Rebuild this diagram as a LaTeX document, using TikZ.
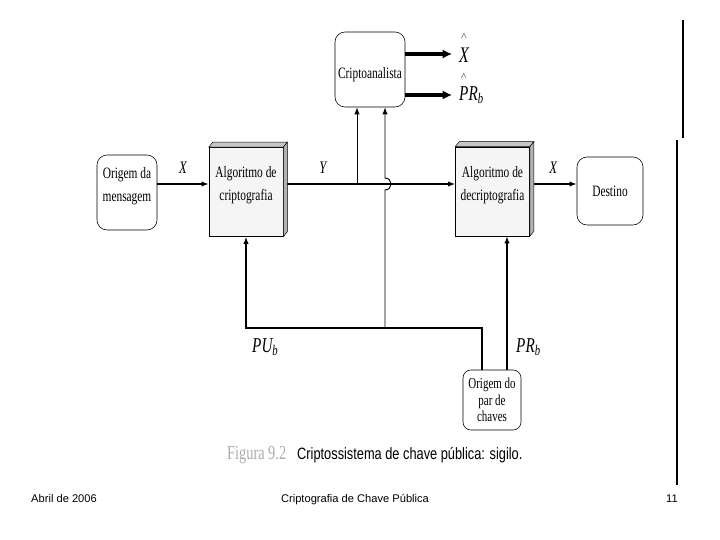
\documentclass[tikz,border=0pt]{standalone}
\usepackage{fontspec}
\setmainfont{Liberation Serif}
\newfontfamily\condserif{Liberation Serif}[FakeStretch=0.72]
\newfontfamily\condsans{Liberation Sans}[FakeStretch=0.78]
\newfontfamily\footsans{Liberation Sans}
\usetikzlibrary{arrows.meta}

% caret above a letter
\newcommand{\caretover}[1]{\ooalign{#1\cr\hidewidth\raisebox{1.05em}{\fontsize{7}{7}\selectfont$\wedge$}\hidewidth\cr}}

\begin{document}
\begin{tikzpicture}[
    x=0.03cm, y=-0.03cm,
    box/.style={draw, rounded corners=0.3cm, line width=0.5pt, inner sep=0pt, align=center,
                font=\condserif\fontsize{13.5}{19.5}\selectfont},
    twoline/.style={text height=18pt, text depth=3pt},
    algbox/.style={draw, fill=gray!8, line width=0.5pt, inner sep=0pt, align=center, twoline,
                minimum width=2.22cm, minimum height=2.67cm, font=\condserif\fontsize{13.5}{19.5}\selectfont},
    arrow/.style={-{Latex[length=6pt,width=4.5pt]}, line width=1.1pt},
    thinarrow/.style={-{Latex[length=6pt,width=4.5pt]}, line width=0.8pt},
    fatarrow/.style={-{Latex[length=8pt,width=8pt]}, line width=3pt},
    lbl/.style={inner sep=0pt, font=\condserif\itshape\fontsize{15}{17}\selectfont},
    keylbl/.style={inner sep=0pt, font=\condserif\itshape\fontsize{18}{20}\selectfont}
]
\useasboundingbox (0,0) rectangle (720,540);

% boxes
\node[box, twoline, minimum width=1.8cm, minimum height=2.25cm] (orig) at (127,192.5) {Origem da\\mensagem};
\node[algbox] (enc) at (246,192) {Algoritmo de\\criptografia};
\node[algbox] (dec) at (492.5,191.5) {Algoritmo de\\decriptografia};
\node[box, minimum width=1.98cm, minimum height=2.04cm] (dest) at (610,191) {Destino};
\node[box, text height=17.6pt, text depth=3pt, minimum width=2.1cm, minimum height=2.25cm] (cana) at (370,69.5) {Criptoanalista};
\node[box, rounded corners=0.24cm, minimum width=1.74cm, minimum height=1.8cm,
      font=\condserif\fontsize{13}{14}\selectfont] (keysrc) at (492,400) {Origem do\\par de\\chaves};

\coordinate (mainy) at (0,184);
\coordinate (bar) at (0,328);
\coordinate (tapY) at (357,184);
\coordinate (hopbot) at (385,190);
\coordinate (hoptop) at (385,178);
\coordinate (outX) at (452,54);
\coordinate (outK) at (452,95);

% main channel
\draw[arrow] (orig.east |- mainy) -- (enc.west |- mainy) node[lbl, midway, above=0.3cm] {X};
\draw[arrow, line width=1.5pt] (enc.east |- mainy) -- (dec.west |- mainy) node[lbl, pos=0.23, above=0.3cm] {Y};
\draw[arrow] (dec.east |- mainy) -- (dest.west |- mainy) node[lbl, midway, above=0.3cm] {X};

% keys
\draw[arrow] ([xshift=-0.3cm]keysrc.north) |- (enc.south |- bar) -- (enc.south);
\draw[arrow] ([xshift=0.45cm]keysrc.north) -- ([xshift=0.45cm]keysrc.north |- dec.south);
\node[keylbl, anchor=west] (pu) at (252,347) {PU\textsubscript{b}};
\node[keylbl, anchor=west] (pr) at (516,347) {PR\textsubscript{b}};

% taps to the cryptanalyst
\draw[thinarrow] (tapY) -- (tapY |- cana.south);
\draw[thinarrow] (hopbot |- bar) -- (hopbot) .. controls +(8,0) and +(8,0) .. (hoptop) -- (hoptop |- cana.south);

% cryptanalyst outputs
\draw[fatarrow] (cana.east |- outX) -- (outX);
\draw[fatarrow] (cana.east |- outK) -- (outK);
\node[inner sep=0pt, anchor=west, font=\condserif\itshape\fontsize{19}{21}\selectfont] (xhat) at (459,55) {\caretover{X}};
\node[keylbl, anchor=west] (prhat) at (459,95) {\caretover{P}R\textsubscript{b}};

% 3d sides of the algorithm boxes
\foreach \n in {enc,dec} {
  \filldraw[fill=gray!45, line width=0.4pt] (\n.north west) -- ++(4,-5) -- ([shift={(4,-5)}]\n.north east) -- (\n.north east) -- cycle;
  \filldraw[fill=gray!60, line width=0.4pt] (\n.north east) -- ++(4,-5) -- ([shift={(4,-5)}]\n.south east) -- (\n.south east) -- cycle;
}

% caption
\node[inner sep=0pt, anchor=west, text=gray!65, font=\condserif\fontsize{17}{19}\selectfont] (fignum) at (227,455) {Figura 9.2};
\node[inner sep=0pt, anchor=west, font=\condsans\fontsize{14}{16}\selectfont] (caption) at (297,455) {Criptossistema de chave pública: sigilo.};

% footer
\node[inner sep=0pt, anchor=base west, font=\footsans\fontsize{9.5}{11}\selectfont] (date) at (31,502) {Abril de 2006};
\node[inner sep=0pt, anchor=base, font=\footsans\fontsize{9.5}{11}\selectfont] (title) at (355,502) {Criptografia de Chave Pública};
\node[inner sep=0pt, anchor=base east, font=\footsans\fontsize{9.5}{11}\selectfont] (page) at (678,502) {11};

% right border lines
\draw[line width=1.6pt] (683,20) -- (683,138);
\draw[line width=1pt] (677,140) -- (677,405);
\draw[line width=2.2pt] (677,405) -- (677,485);
\end{tikzpicture}
\end{document}
